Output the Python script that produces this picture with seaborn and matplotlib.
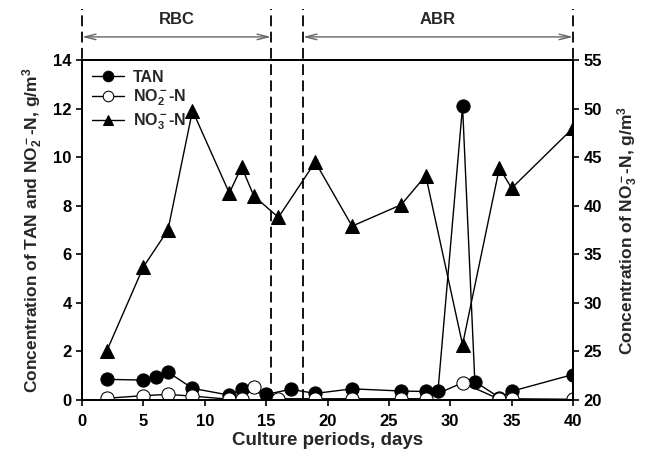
import matplotlib
matplotlib.use('Agg')
import matplotlib.pyplot as plt
import seaborn as sns
import pandas as pd

# data
tan_days = [2, 5, 6, 7, 9, 12, 13, 15, 17, 19, 22, 26, 28, 29, 31, 32, 34, 35, 40]
tan_vals = [0.85, 0.82, 0.96, 1.15, 0.48, 0.2, 0.45, 0.23, 0.44, 0.27, 0.46,
            0.37, 0.35, 0.38, 12.1, 0.76, 0.1, 0.36, 1.05]

no2_days = [2, 5, 7, 9, 12, 13, 14, 16, 19, 22, 26, 28, 31, 34, 35, 40]
no2_vals = [0.07, 0.18, 0.23, 0.16, 0.03, 0.03, 0.52, 0.05, 0.05, 0.05,
            0.05, 0.05, 0.71, 0.03, 0.05, 0.03]

no3_days = [2, 5, 7, 9, 12, 13, 14, 16, 19, 22, 26, 28, 31, 34, 35, 40]
no3_vals = [25.0, 33.7, 37.5, 49.8, 41.3, 44.0, 41.0, 38.8, 44.5, 37.9,
            40.1, 43.1, 25.7, 43.9, 41.8, 48.0]

x_ticks = [0, 5, 10, 15, 20, 25, 30, 35, 40]
left_ticks = [0, 2, 4, 6, 8, 10, 12, 14]
right_ticks = [20, 25, 30, 35, 40, 45, 50, 55]
phase_bounds = [0, 15.4, 18, 40]
phase_names = ['RBC', 'ABR']

sns.set_style('ticks')
plt.rcParams['font.family'] = ['Liberation Sans', 'DejaVu Sans']
plt.rcParams['font.weight'] = 'bold'
plt.rcParams['axes.labelweight'] = 'bold'
plt.rcParams['mathtext.fontset'] = 'custom'
plt.rcParams['mathtext.rm'] = 'Liberation Sans:bold'
plt.rcParams['mathtext.bf'] = 'Liberation Sans:bold'
plt.rcParams['mathtext.it'] = 'Liberation Sans:bold'
plt.rcParams['mathtext.default'] = 'bf'

tan = pd.DataFrame({'day': tan_days, 'val': tan_vals})
no2 = pd.DataFrame({'day': no2_days, 'val': no2_vals})
no3 = pd.DataFrame({'day': no3_days, 'val': no3_vals})

fig = plt.figure(figsize=(6.54, 4.53), dpi=100)
ax = fig.add_axes([0.1254, 0.117, 0.7508, 0.7505])
ax2 = ax.twinx()

ms = 9.5
sns.lineplot(data=tan, x='day', y='val', ax=ax, color='black', lw=1,
             marker='o', markersize=ms, markerfacecolor='black',
             markeredgecolor='black', label='TAN', legend=False)
sns.lineplot(data=no2, x='day', y='val', ax=ax, color='black', lw=1,
             marker='o', markersize=ms, markerfacecolor='white',
             markeredgecolor='black', label='NO$_2^-$-N', legend=False)
sns.lineplot(data=no3, x='day', y='val', ax=ax2, color='black', lw=1,
             marker='^', markersize=ms, markerfacecolor='black',
             markeredgecolor='black', label='NO$_3^-$-N', legend=False)

ax.set_xlim(0, 40)
ax.set_ylim(0, 14)
ax2.set_ylim(20, 55)
ax.set_xticks(x_ticks)
ax.set_yticks(left_ticks)
ax2.set_yticks(right_ticks)

for a in (ax, ax2):
    for s in a.spines.values():
        s.set_color('black')
        s.set_linewidth(1.3)
    a.tick_params(direction='out', length=4, width=1.2, labelsize=12, colors='black')
    for lab in a.get_xticklabels() + a.get_yticklabels():
        lab.set_fontweight('bold')
ax.tick_params(axis='x', pad=6)

ax.set_xlabel('Culture periods, days', fontsize=13.5, fontweight='bold', labelpad=2)
ax.set_ylabel('Concentration of TAN and NO$_2^-$-N, g/m$^3$', fontsize=12.5,
              fontweight='bold', labelpad=6)
ax2.set_ylabel('Concentration of NO$_3^-$-N, g/m$^3$', fontsize=12.5,
               fontweight='bold', labelpad=10)

# phase separators and labels above the plot
for b in phase_bounds:
    ax.axvline(b, ymin=0, ymax=1.15, color='black', ls=(0, (6, 3)),
               lw=1.3, clip_on=False, zorder=5)
for i, name in enumerate(phase_names):
    x0, x1 = phase_bounds[2 * i], phase_bounds[2 * i + 1]
    ax.annotate('', xy=(x0, 1.068), xytext=(x1, 1.068),
                xycoords=('data', 'axes fraction'),
                textcoords=('data', 'axes fraction'),
                arrowprops=dict(arrowstyle='<->,head_length=0.8,head_width=0.2',
                                color='#666666', lw=1,
                                shrinkA=0, shrinkB=0))
    ax.text((x0 + x1) / 2, 1.12, name, transform=ax.get_xaxis_transform(),
            ha='center', va='center', fontsize=12, fontweight='bold')

h1, l1 = ax.get_legend_handles_labels()
h2, l2 = ax2.get_legend_handles_labels()
leg = ax2.legend(h1 + h2, l1 + l2, loc='upper left', frameon=False,
                 fontsize=11.5, handlelength=2.0, borderaxespad=0.2,
                 labelspacing=0.2, handletextpad=0.6, markerscale=0.8)

fig.savefig('out.png', dpi=100)
